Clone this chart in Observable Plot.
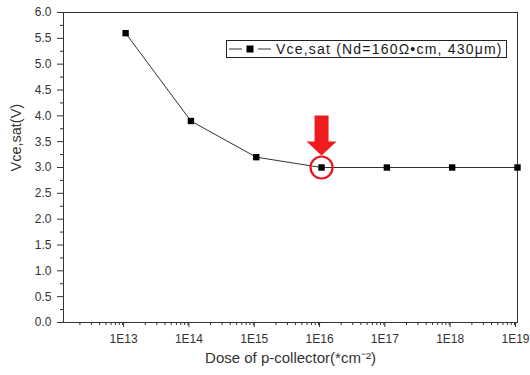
<!DOCTYPE html>
<html><head><meta charset="utf-8">
<script src="https://cdn.jsdelivr.net/npm/d3@7"></script>
<script src="https://cdn.jsdelivr.net/npm/@observablehq/plot@0.6"></script>
<style>
body{margin:0;background:#fff;font-family:"Liberation Sans",Arial,sans-serif;}
#wrap{position:relative;width:530px;height:375px;}
#legend{position:absolute;left:226px;top:40px;width:281px;height:18px;border:1px solid #222;background:#fff;box-sizing:border-box;font-size:14px;letter-spacing:1.2px;color:#1a1a1a;display:flex;align-items:center;white-space:nowrap;}
#legend svg{margin-left:1px;margin-right:5px;}
</style>
</head><body><div id="wrap"></div>
<script>
const doses = [1e13, 1e14, 1e15, 1e16, 1e17, 1e18, 1e19];
const vce = [5.6, 3.9, 3.2, 3.0, 3.0, 3.0, 3.0];
const xTickValues = [1e13, 1e14, 1e15, 1e16, 1e17, 1e18, 1e19];
const xTickLabels = ["1E13", "1E14", "1E15", "1E16", "1E17", "1E18", "1E19"];
const yTickValues = [0, 0.5, 1, 1.5, 2, 2.5, 3, 3.5, 4, 4.5, 5, 5.5, 6];
const highlightDose = 1e16;
const highlightVce = 3.0;
const seriesName = "Vce,sat (Nd=160\u03A9\u2022cm, 430\u03BCm)";

const data = doses.map((d, i) => ({dose: d, v: vce[i]}));
const xMinor = [];
for (let e = 12; e < 19; e++) for (let m = 2; m <= 9; m++) { const v = m * Math.pow(10, e); if (v > 1.12e12) xMinor.push(v); }
const yMinor = d3.range(0.25, 6, 0.5);

const arrowSymbol = {
  draw(ctx) {
    ctx.moveTo(-7, -52); ctx.lineTo(7, -52); ctx.lineTo(7, -26); ctx.lineTo(15, -26);
    ctx.lineTo(0, -12); ctx.lineTo(-15, -26); ctx.lineTo(-7, -26); ctx.closePath();
  }
};

const chart = Plot.plot({
  width: 530, height: 375,
  marginLeft: 63, marginRight: 13, marginTop: 12, marginBottom: 53,
  style: {fontFamily: "'Liberation Sans', Arial, sans-serif", fontSize: "12px", color: "#333", background: "#fff"},
  x: {type: "log", domain: [1.12e12, 1e19]},
  y: {domain: [0, 6]},
  marks: [
    Plot.frame({stroke: "#333"}),
    Plot.axisY(yTickValues, {tickSize: 6, tickPadding: 6, tickFormat: d => d.toFixed(1), label: null, stroke: "#333", fill: "#333", fontSize: 12}),
    Plot.axisY(yMinor, {tickSize: 3, tickFormat: () => "", label: null, stroke: "#333"}),
    Plot.axisX(xTickValues, {tickSize: 5, tickPadding: 7, dx: -2, tickFormat: (d) => xTickLabels[xTickValues.indexOf(d)], label: null, stroke: "#333", fill: "#333", fontSize: 12}),
    Plot.axisX(xMinor, {tickSize: 3, tickFormat: () => "", label: null, stroke: "#333"}),
    Plot.text(["Vce,sat(V)"], {frameAnchor: "left", dx: -47, dy: 4, rotate: -90, fontSize: 14.5, fill: "#333"}),
    Plot.text(["Dose of p-collector(*cm\u207B\u00B2)"], {frameAnchor: "bottom", dy: 40, fontSize: 15, fill: "#333", style: {letterSpacing: "0.4px"}}),
    Plot.line(data, {x: "dose", y: "v", stroke: "#333", strokeWidth: 1}),
    Plot.dot(data, {x: "dose", y: "v", symbol: "square", r: 3.6, fill: "#000", stroke: "none"}),
    Plot.dot([{x: highlightDose, y: highlightVce}], {x: "x", y: "y", r: 11, stroke: "#e8141b", strokeWidth: 2.2, fill: "none"}),
    Plot.dot([{x: highlightDose, y: highlightVce}], {x: "x", y: "y", symbol: arrowSymbol, fill: "#ee1c1c", stroke: "none"})
  ]
});
const wrap = document.getElementById("wrap");
wrap.appendChild(chart);
const leg = document.createElement("div");
leg.id = "legend";
leg.innerHTML = '<svg width="43" height="10"><line x1="1" y1="5" x2="43" y2="5" stroke="#333" stroke-width="1.2"/><line x1="14" y1="5" x2="30" y2="5" stroke="#fff" stroke-width="2"/><rect x="18.5" y="1.5" width="7" height="7" fill="#000"/></svg><span></span>';
leg.querySelector("span").textContent = seriesName;
wrap.appendChild(leg);
</script>
</body></html>
